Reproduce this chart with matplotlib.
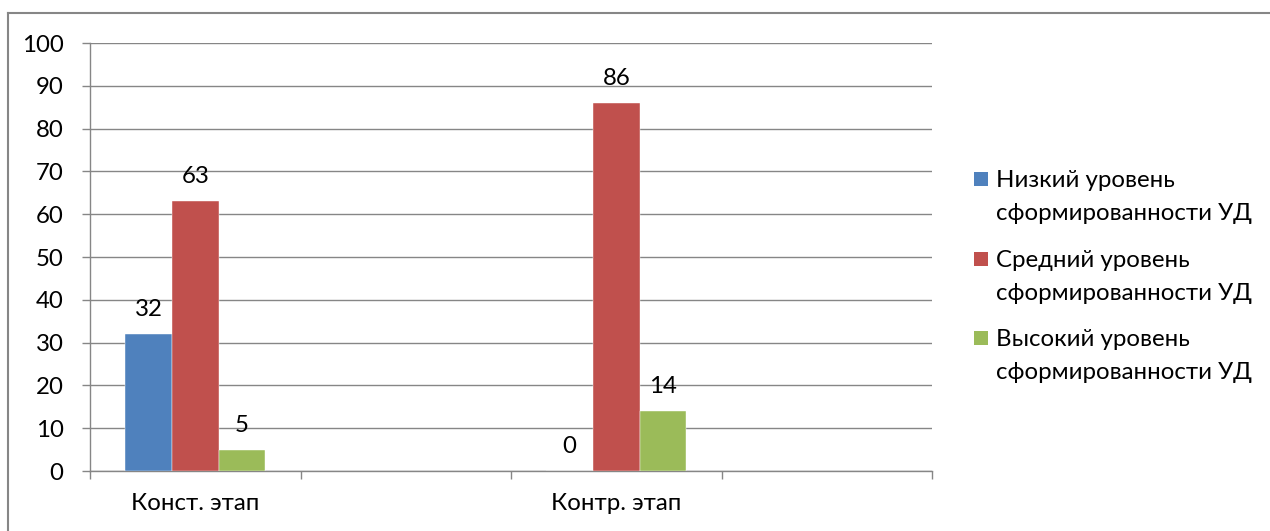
import matplotlib
matplotlib.use("Agg")
import matplotlib.pyplot as plt
from matplotlib.patches import Rectangle
from matplotlib.lines import Line2D
import numpy as np

plt.rcParams['font.family'] = ['Lato', 'DejaVu Sans']

categories = ["Конст. этап", "", "Контр. этап", ""]
series_names = ["Низкий уровень\nсформированности УД",
                "Средний уровень\nсформированности УД",
                "Высокий уровень\nсформированности УД"]
low = [32, None, 0, None]
mid = [63, None, 86, None]
high = [5, None, 14, None]
colors = ["#4F81BD", "#C0504D", "#9BBB59"]
yticks = list(range(0, 101, 10))

W, H = 1270, 531
fig = plt.figure(figsize=(W / 100, H / 100), dpi=100)
ax = fig.add_axes([90 / W, 1 - 471 / H, (932 - 90) / W, (471 - 43) / H])

FS = 17.3
grey = "#868686"
n = len(categories)
x = np.arange(n)
bw = 1 / 4.5  # gap width 150%
series = [low, mid, high]
for i, (vals, c) in enumerate(zip(series, colors)):
    xs = [xi + (i - 1) * bw for xi, v in zip(x, vals) if v is not None]
    vs = [v for v in vals if v is not None]
    ax.bar(xs, vs, width=bw, color=c, edgecolor="white", linewidth=0.3, zorder=3)
    for xx, v in zip(xs, vs):
        ax.annotate(str(v), (xx, v), xytext=(0, 13), textcoords="offset points",
                    ha="center", va="baseline", fontsize=FS, color="black")

ax.set_xlim(-0.5, n - 0.5)
ax.set_ylim(0, 100)
ax.set_yticks(yticks)
ax.set_yticklabels([str(t) for t in yticks], fontsize=FS)
ax.yaxis.grid(True, color=grey, linewidth=1.0, zorder=0)
ax.set_axisbelow(True)
ax.tick_params(axis="y", length=6, width=1.0, color=grey, pad=13)

ax.set_xticks(np.arange(-0.5, n, 1))
ax.set_xticklabels([])
ax.set_xticks(x, minor=True)
ax.set_xticklabels(categories, minor=True, fontsize=FS)
ax.tick_params(axis="x", which="major", length=6, width=1.0, color=grey, direction="out")
ax.tick_params(axis="x", which="minor", length=0, pad=16)

for s in ["top", "right"]:
    ax.spines[s].set_visible(False)
for s in ["left", "bottom"]:
    ax.spines[s].set_color(grey)
    ax.spines[s].set_linewidth(1.0)

# legend (manual)
base = [187, 267, 346]
for name, c, b in zip(series_names, colors, base):
    fig.patches.append(Rectangle((974 / W, 1 - (b - 1) / H), 14 / W, 14 / H,
                                 transform=fig.transFigure, facecolor=c, edgecolor="none"))
    l1, l2 = name.split("\n")
    fig.text(996 / W, 1 - b / H, l1, fontsize=FS, va="baseline", ha="left")
    fig.text(996 / W, 1 - (b + 33) / H, l2, fontsize=FS, va="baseline", ha="left")

# outer border
fig.add_artist(Line2D([7.5 / W, 7.5 / W], [0, 1 - 12.5 / H], transform=fig.transFigure,
                      color=grey, linewidth=1.5))
fig.add_artist(Line2D([7.5 / W, 1], [1 - 12.5 / H, 1 - 12.5 / H], transform=fig.transFigure,
                      color=grey, linewidth=1.5))

fig.savefig("out.png", dpi=100, facecolor="white")
